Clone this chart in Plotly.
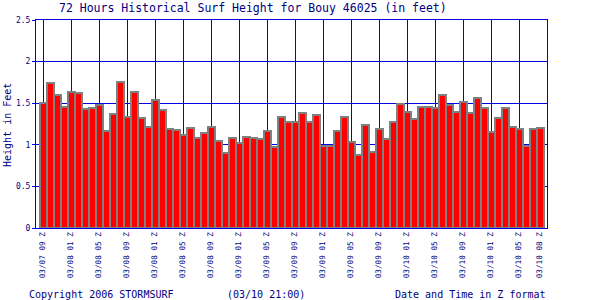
import plotly.graph_objects as go

heights = [1.50, 1.74, 1.60, 1.45, 1.63, 1.62, 1.43, 1.44, 1.48, 1.16,
           1.37, 1.75, 1.33, 1.64, 1.32, 1.21, 1.54, 1.42, 1.19, 1.18,
           1.12, 1.20, 1.08, 1.14, 1.21, 1.05, 0.90, 1.08, 1.02, 1.09,
           1.08, 1.07, 1.16, 0.97, 1.33, 1.27, 1.27, 1.38, 1.27, 1.36,
           0.98, 0.99, 1.16, 1.33, 1.03, 0.88, 1.24, 0.91, 1.19, 1.07,
           1.27, 1.49, 1.39, 1.31, 1.46, 1.45, 1.44, 1.60, 1.48, 1.39,
           1.51, 1.38, 1.56, 1.44, 1.15, 1.32, 1.44, 1.22, 1.19, 0.99,
           1.19, 1.20]
hours = list(range(len(heights)))

tick_positions = [0, 4, 8, 12, 16, 20, 24, 28, 32, 36, 40, 44, 48, 52, 56, 60, 64, 68, 71]
tick_labels = ["03/07 09 Z", "03/08 01 Z", "03/08 05 Z", "03/08 09 Z", "03/08 01 Z",
               "03/08 05 Z", "03/08 09 Z", "03/09 01 Z", "03/09 05 Z", "03/09 09 Z",
               "03/09 01 Z", "03/09 05 Z", "03/09 09 Z", "03/10 01 Z", "03/10 05 Z",
               "03/10 09 Z", "03/10 01 Z", "03/10 05 Z", "03/10 08 Z"]
grid_positions = list(range(0, 73, 4))

NAVY = "#000080"
BLUE = "#0000e0"
FONT = "DejaVu Sans Mono"

fig = go.Figure(go.Bar(
    x=hours, y=heights,
    marker=dict(color="#ff0000", line=dict(color="#808080", width=2)),
))

L, R, T, B = 36, 53, 20, 72
W, H = 600, 300
pw, ph = W - L - R, H - T - B

def px_x(p):
    return (p - L) / pw

def px_y(p):
    return (H - B - p) / ph

fig.update_layout(
    width=W, height=H,
    margin=dict(l=L, r=R, t=T, b=B, pad=0),
    paper_bgcolor="white", plot_bgcolor="white",
    bargap=0,
    showlegend=False,
    font=dict(family=FONT, color=NAVY),
    xaxis=dict(range=[-1, 72], tickvals=tick_positions, ticktext=tick_labels,
               tickangle=-90, tickfont=dict(family=FONT, size=7.7, color=NAVY),
               showgrid=False, zeroline=False, ticks="",
               showline=True, linecolor=BLUE, linewidth=1, mirror=True,
               minor=dict(tickvals=grid_positions, showgrid=True, gridcolor=BLUE,
                          gridwidth=1, ticks="")),
    yaxis=dict(range=[0, 2.5], dtick=0.5, tick0=0,
               tickfont=dict(family=FONT, size=8, color=NAVY),
               showgrid=True, gridcolor=BLUE, gridwidth=1, zeroline=False,
               ticks="outside", ticklen=3, tickcolor=BLUE,
               showline=True, linecolor=BLUE, linewidth=1, mirror=True),
    annotations=[
        dict(text="72 Hours Historical Surf Height for Bouy 46025 (in feet)",
             xref="paper", yref="paper", x=px_x(253), y=px_y(8),
             showarrow=False, xanchor="center", yanchor="middle",
             font=dict(family=FONT, size=11.5, color=NAVY)),
        dict(text="Height in Feet", xref="paper", yref="paper",
             x=px_x(7), y=px_y(125), textangle=-90, showarrow=False,
             xanchor="center", yanchor="middle",
             font=dict(family=FONT, size=10, color=NAVY)),
        dict(text="Copyright 2006 STORMSURF", xref="paper", yref="paper",
             x=px_x(27), y=px_y(294), showarrow=False,
             xanchor="left", yanchor="middle",
             font=dict(family=FONT, size=10, color=NAVY)),
        dict(text="(03/10 21:00)", xref="paper", yref="paper",
             x=px_x(225), y=px_y(294), showarrow=False,
             xanchor="left", yanchor="middle",
             font=dict(family=FONT, size=10, color=NAVY)),
        dict(text="Date and Time in Z format", xref="paper", yref="paper",
             x=px_x(548), y=px_y(294), showarrow=False,
             xanchor="right", yanchor="middle",
             font=dict(family=FONT, size=10, color=NAVY)),
    ],
)

fig.write_html("out.html")
